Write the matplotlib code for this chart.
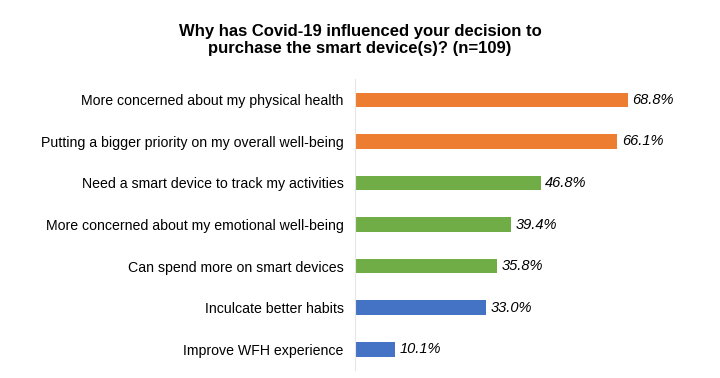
import matplotlib.pyplot as plt

plt.rcParams['font.family'] = ['Liberation Sans', 'DejaVu Sans']

# Data
reasons = [
    "More concerned about my physical health",
    "Putting a bigger priority on my overall well-being",
    "Need a smart device to track my activities",
    "More concerned about my emotional well-being",
    "Can spend more on smart devices",
    "Inculcate better habits",
    "Improve WFH experience",
]
shares = [68.8, 66.1, 46.8, 39.4, 35.8, 33.0, 10.1]
bar_colors = ["#ED7D31", "#ED7D31", "#70AD47", "#70AD47", "#70AD47", "#4472C4", "#4472C4"]

fig = plt.figure(figsize=(7.2, 3.78), dpi=100)
ax = fig.add_axes([0.493, 0.021, 0.493, 0.77])

ypos = list(range(len(reasons)))
ax.barh(ypos, shares, height=0.35, color=bar_colors)

for y, v in zip(ypos, shares):
    ax.text(v + 1.2, y, f"{v:.1f}%", va='center', ha='left',
            fontsize=10.5, style='italic', color='black')

ax.set_yticks(ypos)
ax.set_yticklabels(reasons, fontsize=10.2)
ax.set_ylim(6.5, -0.5)
ax.set_xlim(0, 89.5)
ax.set_xticks([])
ax.tick_params(axis='y', length=0, pad=8)

for side in ['top', 'right', 'bottom']:
    ax.spines[side].set_visible(False)
ax.spines['left'].set_color('#e6e6e6')
ax.spines['left'].set_linewidth(0.8)

fig.text(0.5, 0.895, "Why has Covid-19 influenced your decision to\npurchase the smart device(s)? (n=109)",
         ha='center', va='center', fontsize=12, fontweight='bold', linespacing=1.15)

plt.savefig("out.png", dpi=100)
